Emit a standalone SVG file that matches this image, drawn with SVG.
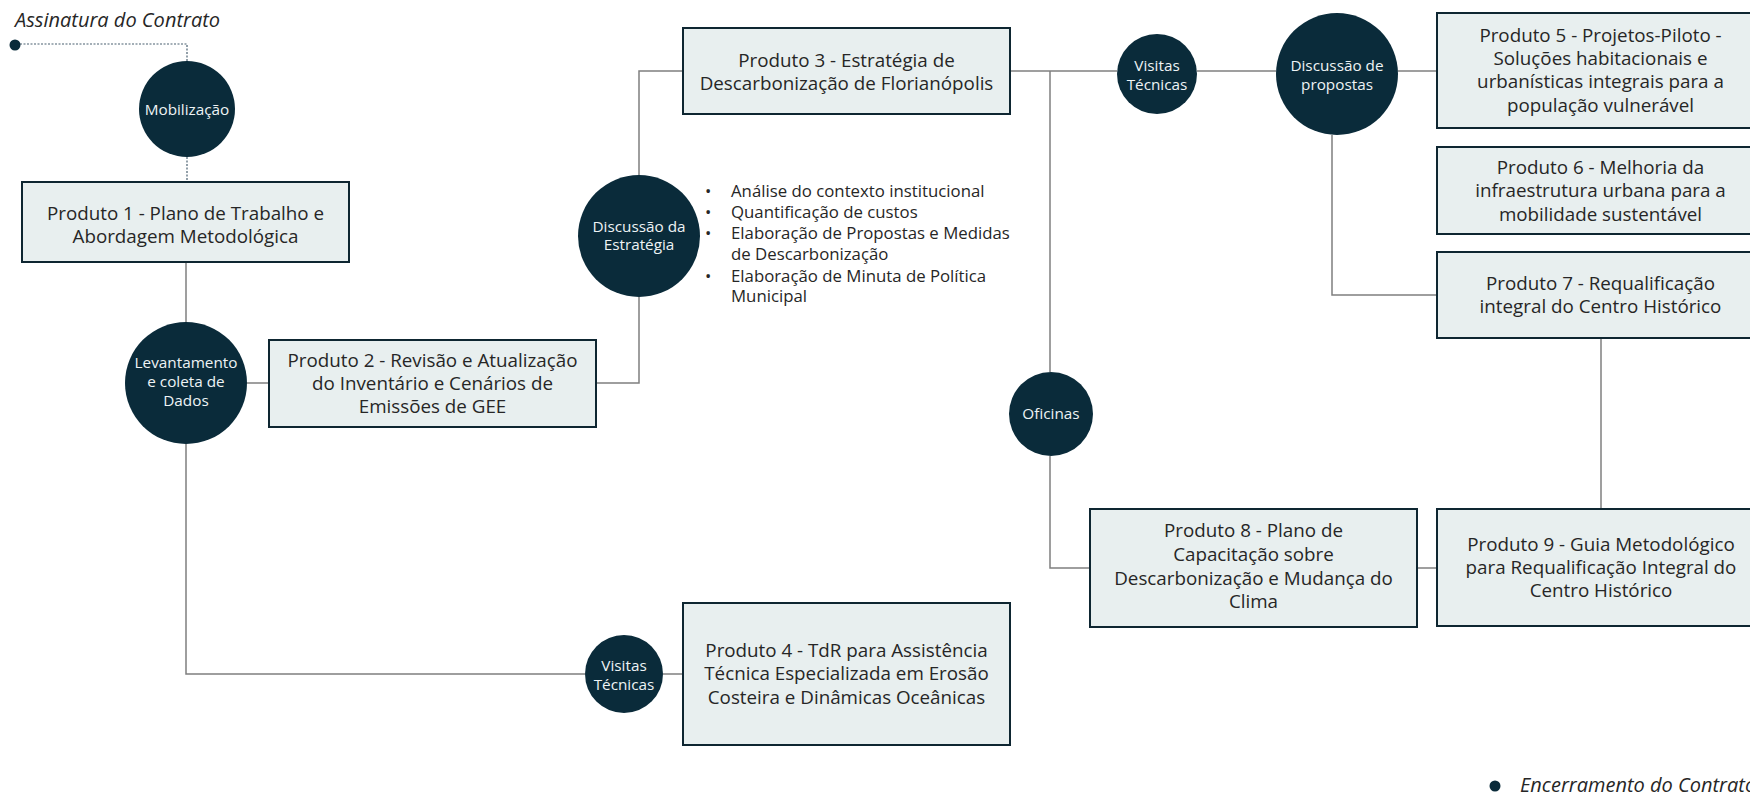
<svg xmlns="http://www.w3.org/2000/svg" width="1750" height="794" viewBox="0 0 1750 794">
<style>
  .box{fill:#e8efef;stroke:#0e2631;stroke-width:2}
  .bt{font-family:"Open Sans","Noto Sans",sans-serif;font-size:18.8px;fill:#262626;text-anchor:middle}
  .circ{fill:#0a2b3a}
  .ct{font-family:"Open Sans","Noto Sans",sans-serif;font-size:15.3px;fill:#eef3f5;text-anchor:middle}
  .ln{fill:none;stroke:#7f7f7f;stroke-width:1.5}
  .dash{fill:none;stroke:#4a6070;stroke-width:1.2;stroke-dasharray:2 1.5}
  .it{font-family:"Open Sans","Noto Sans",sans-serif;font-size:20px;font-style:italic;fill:#262626}
  .bl{font-family:"Open Sans","Noto Sans",sans-serif;font-size:16.8px;fill:#262626}
</style>
<rect width="1750" height="794" fill="#ffffff"/>
<g id="connectors">
  <path class="dash" d="M20 44 H187 V61"/>
  <path class="dash" d="M187 157 V182"/>
  <path class="ln" d="M186 262 V322"/>
  <path class="ln" d="M247 383 H269"/>
  <path class="ln" d="M596 383 H639 V297"/>
  <path class="ln" d="M639 175 V71 H683"/>
  <path class="ln" d="M1010 71 H1117"/>
  <path class="ln" d="M1197 71 H1276"/>
  <path class="ln" d="M1398 71 H1437"/>
  <path class="ln" d="M1050 71 V372"/>
  <path class="ln" d="M1050 456 V568 H1090"/>
  <path class="ln" d="M1332 135 V295 H1437"/>
  <path class="ln" d="M1601 338 V509"/>
  <path class="ln" d="M1417 568 H1437"/>
  <path class="ln" d="M186 444 V674 H585"/>
  <path class="ln" d="M663 674 H683"/>
</g>
<g id="inicio">
  <text class="it" x="15" y="27">Assinatura do Contrato</text>
  <circle class="circ" cx="15" cy="45" r="5.5"/>
</g>
<g id="mobilizacao">
  <circle class="circ" cx="187" cy="109" r="48"/>
  <text class="ct" x="187" y="115">Mobilização</text>
</g>
<g id="produto1">
  <rect class="box" x="22" y="182" width="327" height="80"/>
  <text class="bt" x="185.5" y="220">Produto 1 - Plano de Trabalho e</text>
  <text class="bt" x="185.5" y="243">Abordagem Metodológica</text>
</g>
<g id="levantamento">
  <circle class="circ" cx="186" cy="383" r="61"/>
  <text class="ct" x="186" y="368">Levantamento</text>
  <text class="ct" x="186" y="387">e coleta de</text>
  <text class="ct" x="186" y="406">Dados</text>
</g>
<g id="produto2">
  <rect class="box" x="269" y="340" width="327" height="87"/>
  <text class="bt" x="432.5" y="367">Produto 2 - Revisão e Atualização</text>
  <text class="bt" x="432.5" y="390">do Inventário e Cenários de</text>
  <text class="bt" x="432.5" y="413">Emissões de GEE</text>
</g>
<g id="discussao-estrategia">
  <circle class="circ" cx="639" cy="236" r="61"/>
  <text class="ct" x="639" y="232">Discussão da</text>
  <text class="ct" x="639" y="250">Estratégia</text>
</g>
<g id="atividades">
  <text class="bl" x="705" y="197">•</text><text class="bl" x="731" y="197">Análise do contexto institucional</text>
  <text class="bl" x="705" y="218">•</text><text class="bl" x="731" y="218">Quantificação de custos</text>
  <text class="bl" x="705" y="239">•</text><text class="bl" x="731" y="239">Elaboração de Propostas e Medidas</text>
  <text class="bl" x="731" y="260">de Descarbonização</text>
  <text class="bl" x="705" y="282">•</text><text class="bl" x="731" y="282">Elaboração de Minuta de Política</text>
  <text class="bl" x="731" y="302">Municipal</text>
</g>
<g id="produto3">
  <rect class="box" x="683" y="28" width="327" height="86"/>
  <text class="bt" x="846.5" y="67">Produto 3 - Estratégia de</text>
  <text class="bt" x="846.5" y="90">Descarbonização de Florianópolis</text>
</g>
<g id="visitas-1">
  <circle class="circ" cx="1157" cy="74" r="40"/>
  <text class="ct" x="1157" y="71">Visitas</text>
  <text class="ct" x="1157" y="90">Técnicas</text>
</g>
<g id="discussao-propostas">
  <circle class="circ" cx="1337" cy="74" r="61"/>
  <text class="ct" x="1337" y="71">Discussão de</text>
  <text class="ct" x="1337" y="90">propostas</text>
</g>
<g id="produto5">
  <rect class="box" x="1437" y="13" width="327" height="115"/>
  <text class="bt" x="1600.5" y="42">Produto 5 - Projetos-Piloto -</text>
  <text class="bt" x="1600.5" y="65">Soluções habitacionais e</text>
  <text class="bt" x="1600.5" y="88">urbanísticas integrais para a</text>
  <text class="bt" x="1600.5" y="112">população vulnerável</text>
</g>
<g id="produto6">
  <rect class="box" x="1437" y="147" width="327" height="87"/>
  <text class="bt" x="1600.5" y="174">Produto 6 - Melhoria da</text>
  <text class="bt" x="1600.5" y="197">infraestrutura urbana para a</text>
  <text class="bt" x="1600.5" y="221">mobilidade sustentável</text>
</g>
<g id="produto7">
  <rect class="box" x="1437" y="252" width="327" height="86"/>
  <text class="bt" x="1600.5" y="290">Produto 7 - Requalificação</text>
  <text class="bt" x="1600.5" y="313">integral do Centro Histórico</text>
</g>
<g id="oficinas">
  <circle class="circ" cx="1051" cy="414" r="42"/>
  <text class="ct" x="1051" y="419">Oficinas</text>
</g>
<g id="produto8">
  <rect class="box" x="1090" y="509" width="327" height="118"/>
  <text class="bt" x="1253.5" y="537">Produto 8 - Plano de</text>
  <text class="bt" x="1253.5" y="561">Capacitação sobre</text>
  <text class="bt" x="1253.5" y="585">Descarbonização e Mudança do</text>
  <text class="bt" x="1253.5" y="608">Clima</text>
</g>
<g id="produto9">
  <rect class="box" x="1437" y="509" width="327" height="117"/>
  <text class="bt" x="1601" y="551">Produto 9 - Guia Metodológico</text>
  <text class="bt" x="1601" y="574">para Requalificação Integral do</text>
  <text class="bt" x="1601" y="597">Centro Histórico</text>
</g>
<g id="visitas-2">
  <circle class="circ" cx="624" cy="674" r="39"/>
  <text class="ct" x="624" y="671">Visitas</text>
  <text class="ct" x="624" y="690">Técnicas</text>
</g>
<g id="produto4">
  <rect class="box" x="683" y="603" width="327" height="142"/>
  <text class="bt" x="846.5" y="657">Produto 4 - TdR para Assistência</text>
  <text class="bt" x="846.5" y="680">Técnica Especializada em Erosão</text>
  <text class="bt" x="846.5" y="704">Costeira e Dinâmicas Oceânicas</text>
</g>
<g id="fim">
  <circle class="circ" cx="1495" cy="786" r="5.5"/>
  <text class="it" x="1520" y="792">Encerramento do Contrato</text>
</g>
</svg>
